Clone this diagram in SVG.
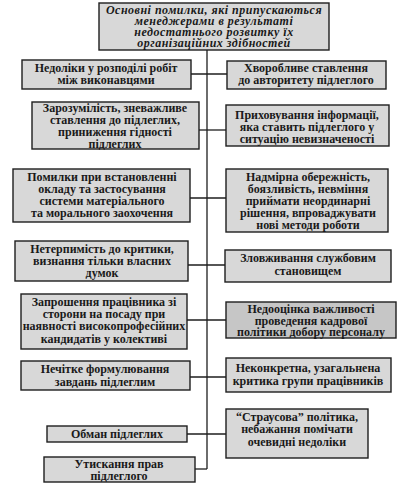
<svg xmlns="http://www.w3.org/2000/svg" width="415" height="504" viewBox="0 0 415 504">
<style>
.bg{fill:#ffffff}
.box{fill:#d8d8d8;stroke:#1e1e1e;stroke-width:1.4}
.dark{fill:#c6c6c6}
.t{font-family:"Liberation Serif","Times New Roman",serif;font-size:12px;font-weight:bold;fill:#1a1a1a;text-anchor:middle}
.ti{font-family:"Liberation Serif","Times New Roman",serif;font-size:12px;font-style:italic;font-weight:bold;letter-spacing:0.5px;fill:#1a1a1a;text-anchor:middle}
.c{stroke:#1e1e1e;stroke-width:1.3;fill:none}
</style>
<rect class="bg" x="0" y="0" width="415" height="504"/>
<g id="connectors">
<line class="c" x1="207" y1="50" x2="207" y2="469"/>
<line class="c" x1="191" y1="74" x2="227" y2="74"/>
<line class="c" x1="199" y1="130" x2="226" y2="130"/>
<line class="c" x1="190" y1="198" x2="226" y2="198"/>
<line class="c" x1="188" y1="265" x2="225" y2="265"/>
<line class="c" x1="187" y1="320" x2="226" y2="320"/>
<line class="c" x1="190" y1="377" x2="226" y2="377"/>
<line class="c" x1="187" y1="434" x2="226" y2="434"/>
<line class="c" x1="195" y1="469" x2="207" y2="469"/>
</g>
<g id="top">
<rect class="box" x="99" y="3" width="230" height="47"/>
<text class="ti" x="214" y="14">Основні помилки, які припускаються</text>
<text class="ti" x="214" y="25">менеджерами в результаті</text>
<text class="ti" x="214" y="36">недостатнього розвитку їх</text>
<text class="ti" x="214" y="47">організаційних здібностей</text>
</g>
<g id="l1">
<rect class="box" x="22" y="60" width="169" height="29"/>
<text class="t" x="106" y="72">Недоліки у розподілі робіт</text>
<text class="t" x="106" y="84">між виконавцями</text>
</g>
<g id="r1">
<rect class="box" x="227" y="61" width="159" height="28"/>
<text class="t" x="306" y="72">Хворобливе ставлення</text>
<text class="t" x="306" y="84">до авторитету підлеглого</text>
</g>
<g id="l2">
<rect class="box" x="32" y="102" width="167" height="47"/>
<text class="t" x="115" y="112">Зарозумілість, зневажливе</text>
<text class="t" x="115" y="124">ставлення до підлеглих,</text>
<text class="t" x="115" y="136">приниження гідності</text>
<text class="t" x="115" y="148">підлеглих</text>
</g>
<g id="r2">
<rect class="box" x="226" y="105" width="163" height="41"/>
<text class="t" x="307" y="119">Приховування інформації,</text>
<text class="t" x="307" y="131">яка ставить підлеглого у</text>
<text class="t" x="307" y="143">ситуацію невизначеності</text>
</g>
<g id="l3">
<rect class="box" x="13" y="169" width="177" height="53"/>
<text class="t" x="102" y="181">Помилки при встановленні</text>
<text class="t" x="102" y="193">окладу та застосування</text>
<text class="t" x="102" y="205">системи матеріального</text>
<text class="t" x="102" y="217">та морального заохочення</text>
</g>
<g id="r3">
<rect class="box" x="226" y="169" width="162" height="63"/>
<text class="t" x="308" y="181">Надмірна обережність,</text>
<text class="t" x="308" y="193">боязливість, невміння</text>
<text class="t" x="308" y="205">приймати неординарні</text>
<text class="t" x="308" y="217">рішення, впроваджувати</text>
<text class="t" x="308" y="229">нові методи роботи</text>
</g>
<g id="l4">
<rect class="box" x="15" y="241" width="173" height="40"/>
<text class="t" x="102" y="253">Нетерпимість до критики,</text>
<text class="t" x="102" y="265">визнання тільки власних</text>
<text class="t" x="102" y="277">думок</text>
</g>
<g id="r4">
<rect class="box" x="225" y="250" width="166" height="32"/>
<text class="t" x="308" y="262">Зловживання службовим</text>
<text class="t" x="308" y="275">становищем</text>
</g>
<g id="l5">
<rect class="box" x="21" y="294" width="166" height="55"/>
<text class="t" x="104" y="306">Запрошення працівника зі</text>
<text class="t" x="104" y="318">сторони на посаду при</text>
<text class="t" x="104" y="330">наявності високопрофесійних</text>
<text class="t" x="104" y="343">кандидатів у колективі</text>
</g>
<g id="r5">
<rect class="box dark" x="226" y="302" width="170" height="36"/>
<text class="t" x="311" y="313">Недооцінка важливості</text>
<text class="t" x="311" y="325">проведення кадрової</text>
<text class="t" x="311" y="336">політики добору персоналу</text>
</g>
<g id="l6">
<rect class="box" x="21" y="361" width="169" height="29"/>
<text class="t" x="105" y="373">Нечітке формулювання</text>
<text class="t" x="105" y="386">завдань підлеглим</text>
</g>
<g id="r6">
<rect class="box" x="226" y="358" width="165" height="34"/>
<text class="t" x="308" y="372">Неконкретна, узагальнена</text>
<text class="t" x="308" y="385">критика групи працівників</text>
</g>
<g id="l7">
<rect class="box" x="47" y="426" width="140" height="16"/>
<text class="t" x="117" y="438">Обман підлеглих</text>
</g>
<g id="r7">
<rect class="box" x="226" y="409" width="142" height="49"/>
<text class="t" x="297" y="421">“Страусова” політика,</text>
<text class="t" x="297" y="433">небажання помічати</text>
<text class="t" x="297" y="446">очевидні недоліки</text>
</g>
<g id="l8">
<rect class="box" x="44" y="457" width="151" height="25"/>
<text class="t" x="119" y="468">Утискання прав</text>
<text class="t" x="119" y="480">підлеглого</text>
</g>
</svg>
